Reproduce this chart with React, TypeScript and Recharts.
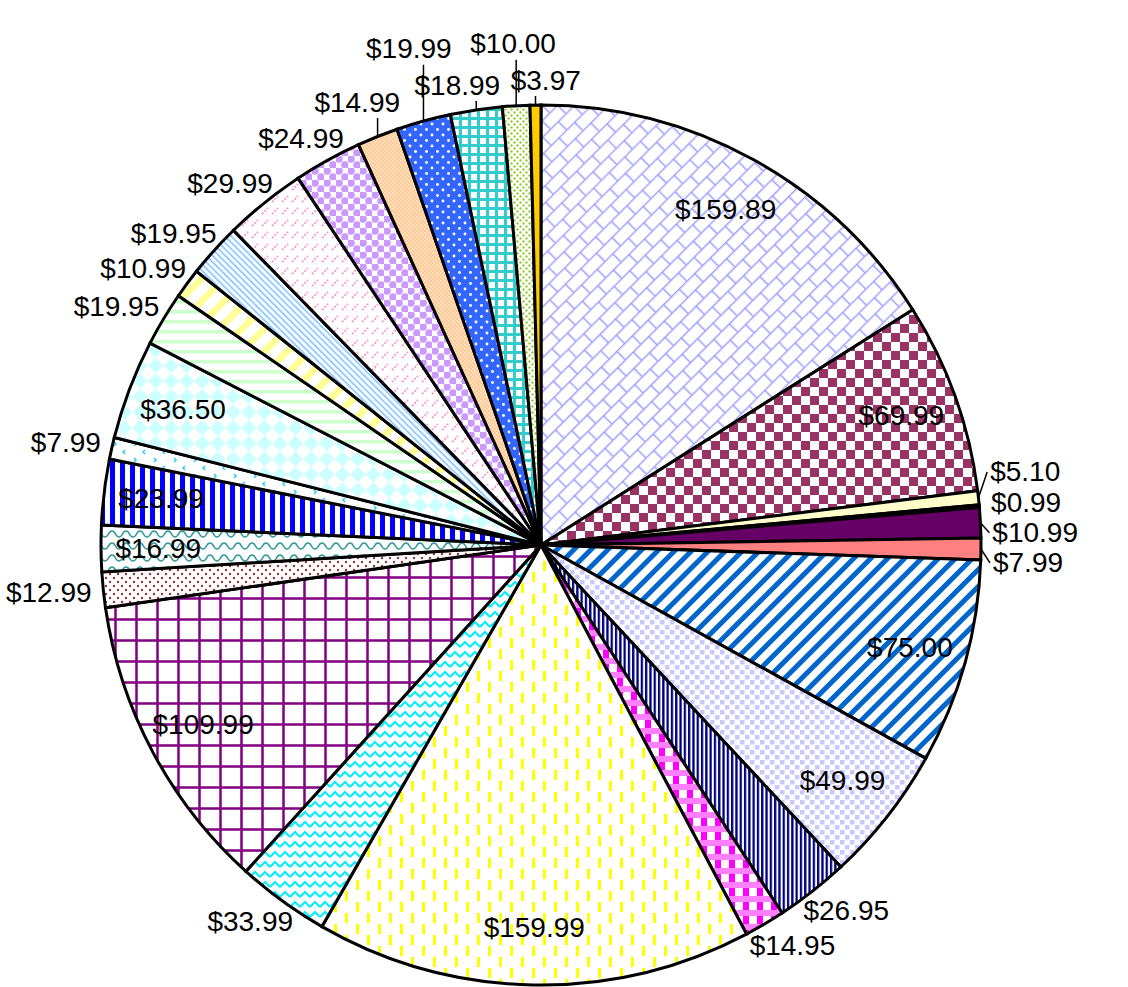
import { PieChart, Pie, Cell } from 'recharts';

// slice values, clockwise from 12 o'clock
const prices = [
  159.89, 69.99, 5.1, 0.99, 10.99, 7.99, 75.0, 49.99, 26.95, 14.95, 159.99, 33.99, 109.99, 12.99,
  16.99, 23.99, 7.99, 36.5, 19.95, 10.99, 19.95, 29.99, 24.99, 14.99, 19.99, 18.99, 10.0, 3.97,
];
const priceLabels = prices.map((p) => `$${p.toFixed(2)}`);

const sliceFills = [
  'url(#p0)', 'url(#p1)', '#ffffcc', '#1a0033', '#660066', '#ff8080', 'url(#p6)', 'url(#p7)',
  'url(#p8)', 'url(#p9)', 'url(#p10)', 'url(#p11)', 'url(#p12)', 'url(#p13)', 'url(#p14)',
  'url(#p15)', 'url(#p16)', 'url(#p17)', 'url(#p18)', 'url(#p19)', 'url(#p20)', 'url(#p21)',
  'url(#p22)', 'url(#p23)', 'url(#p24)', 'url(#p25)', 'url(#p26)', '#ffcc00',
];

const rows = prices.map((value, i) => ({ name: priceLabels[i], value }));

const W = 1128;
const H = 987;
const CX = 541;
const CY = 545;
const R = 440;
const FONT = 28;
const BOX_H = 26;
const GAP = 4;
const TOP_GAP = 10;
const IN_R = 0.87;

type Placed = {
  x: number; y: number; w: number; h: number;
  nx: number; ny: number; s: number; c: number;
  axis: 'x' | 'y'; inside: boolean;
};

const textWidth = (t: string) =>
  [...t].reduce((w, ch) => w + (ch === '.' ? 0.278 : 0.556), 0) * FONT;

// clockwise angle from 12 o'clock, 0..2PI
const clockAngle = (x: number, y: number) => {
  const a = Math.atan2(x - CX, CY - y);
  return a < 0 ? a + Math.PI * 2 : a;
};

// label goes inside when its box fits in the wedge, like Excel's best fit
function fitsInside(t0: number, t1: number, x: number, y: number, w: number, h: number) {
  const corners = [[x - w / 2, y - h / 2], [x + w / 2, y - h / 2], [x - w / 2, y + h / 2], [x + w / 2, y + h / 2]];
  return corners.every(([px, py]) => {
    const a = clockAngle(px, py);
    return a >= t0 && a <= t1 && Math.hypot(px - CX, py - CY) < R - 4;
  });
}

function placeLabels(): Placed[] {
  const total = prices.reduce((a, b) => a + b, 0);
  let acc = 0;
  const out: Placed[] = prices.map((v, i) => {
    const t0 = (acc / total) * Math.PI * 2;
    const t1 = ((acc + v) / total) * Math.PI * 2;
    const t = (t0 + t1) / 2;
    acc += v;
    const s = Math.sin(t);
    const c = Math.cos(t);
    const w = textWidth(priceLabels[i]);
    const ix = CX + R * IN_R * s;
    const iy = CY - R * IN_R * c;
    if (fitsInside(t0, t1, ix, iy, w, 22)) {
      return { x: ix, y: iy, w, h: BOX_H, nx: ix, ny: iy, s, c, axis: 'y', inside: true };
    }
    const px = CX + (R + 12) * s;
    const py = CY - (R + 12) * c;
    const x = px + (s * w) / 2;
    const y = py - (c * BOX_H) / 2;
    return { x, y, w, h: BOX_H, nx: x, ny: y, s, c, axis: Math.abs(s) >= 0.5 ? 'y' : 'x', inside: false };
  });

  const free = out.filter((b) => !b.inside);
  for (let it = 0; it < 600; it++) {
    let hit = false;
    for (let a = 0; a < free.length; a++) {
      for (let b = a + 1; b < free.length; b++) {
        const A = free[a];
        const B = free[b];
        const top = A.axis === 'x' && B.axis === 'x';
        const g = top ? TOP_GAP : GAP;
        const ox = (A.w + B.w) / 2 + g - Math.abs(A.x - B.x);
        const oy = (A.h + B.h) / 2 + g - Math.abs(A.y - B.y);
        if (ox <= 0 || oy <= 0) continue;
        hit = true;
        if (top) {
          if (oy < ox) {
            // stack the higher one further up, away from the pie
            const up = A.y < B.y ? A : B;
            up.y -= oy + 0.3;
          } else {
            const dir = A.x < B.x ? -1 : 1;
            A.x += dir * (ox / 2 + 0.3);
            B.x -= dir * (ox / 2 + 0.3);
          }
          continue;
        }
        const pairs: [Placed, Placed, number][] = [[A, B, -1], [B, A, 1]];
        for (const [P, Q, order] of pairs) {
          if (P.axis === 'y') {
            const dir = P.y < Q.y ? -1 : P.y > Q.y ? 1 : order * (P.s >= 0 ? 1 : -1);
            P.y += dir * (oy / 2 + 0.3);
          } else {
            const dir = P.x < Q.x ? -1 : P.x > Q.x ? 1 : order * (P.c >= 0 ? 1 : -1);
            P.x += dir * (ox / 2 + 0.3);
          }
        }
      }
    }
    for (const b of free) {
      b.x = Math.min(W - b.w / 2 - 2, Math.max(b.w / 2 + 2, b.x));
      b.y = Math.min(H - b.h / 2 - 2, Math.max(b.h / 2 + 2, b.y));
    }
    if (!hit) break;
  }
  return out;
}

const placed = placeLabels();

function renderLabel(props: any) {
  const { cx, cy, midAngle, outerRadius, index } = props;
  const b = placed[index];
  const rad = (midAngle * Math.PI) / 180;
  const text = (
    <text
      x={b.inside ? cx + outerRadius * IN_R * Math.cos(rad) : b.x}
      y={b.inside ? cy - outerRadius * IN_R * Math.sin(rad) : b.y}
      textAnchor="middle"
      dominantBaseline="central"
      fontFamily="'Liberation Sans', Arial, sans-serif"
      fontSize={FONT}
      fill="#000"
    >
      {priceLabels[index]}
    </text>
  );
  if (b.inside || Math.hypot(b.x - b.nx, b.y - b.ny) < 5) return <g key={index}>{text}</g>;

  const ex = cx + outerRadius * Math.cos(rad);
  const ey = cy - outerRadius * Math.sin(rad);
  const left = b.x - b.w / 2;
  const right = b.x + b.w / 2;
  let pts: number[][];
  if (left > ex + 6) {
    const end = [left - 3, b.y];
    pts = left - ex > 24 ? [[ex, ey], [left - 16, b.y], end] : [[ex, ey], end];
  } else if (right < ex - 6) {
    const end = [right + 3, b.y];
    pts = ex - right > 24 ? [[ex, ey], [right + 16, b.y], end] : [[ex, ey], end];
  } else {
    const tx = Math.min(right - 4, Math.max(left + 4, ex));
    pts = ey > b.y ? [[ex, ey], [tx, b.y + b.h / 2 + 3]] : [[ex, ey], [tx, b.y - b.h / 2 - 3]];
  }
  return (
    <g key={index}>
      <polyline points={pts.map((p) => p.join(',')).join(' ')} fill="none" stroke="#000" strokeWidth={1.5} />
      {text}
    </g>
  );
}

function Patterns() {
  const U = 'userSpaceOnUse';
  return (
    <svg width={0} height={0} style={{ position: 'absolute' }}>
      <defs>
        <pattern id="p0" width={22} height={24} patternUnits={U} patternTransform="rotate(-45)">
          <rect width={22} height={24} fill="#fff" />
          <path d="M0 0.75H22M0 12.75H22M0.75 0V12M11.75 12V24" stroke="#a3a3ff" strokeWidth={1.6} />
        </pattern>
        <pattern id="p1" width={18} height={18} patternUnits={U}>
          <rect width={18} height={18} fill="#fff" />
          <rect width={9} height={9} fill="#993366" />
          <rect x={9} y={9} width={9} height={9} fill="#993366" />
        </pattern>
        <pattern id="p6" width={12} height={12} patternUnits={U} patternTransform="rotate(45)">
          <rect width={12} height={12} fill="#fff" />
          <rect width={5} height={12} fill="#0066cc" />
        </pattern>
        <pattern id="p7" width={10} height={10} patternUnits={U}>
          <rect width={10} height={10} fill="#fff" />
          <rect width={4.5} height={4.5} fill="#c8c8ff" />
          <rect x={5} y={5} width={4.5} height={4.5} fill="#c8c8ff" />
        </pattern>
        <pattern id="p8" width={4.3} height={10} patternUnits={U}>
          <rect width={4.3} height={10} fill="#fff" />
          <rect width={2.3} height={10} fill="#000080" />
        </pattern>
        <pattern id="p9" width={14} height={14} patternUnits={U}>
          <rect width={14} height={14} fill="#fff" />
          <rect width={14} height={6} fill="#ff80ff" />
          <rect x={1} y={6} width={6} height={8} fill="#ff00ff" />
        </pattern>
        <pattern id="p10" width={22} height={22} patternUnits={U}>
          <rect width={22} height={22} fill="#fff" />
          <rect x={4} y={0} width={3} height={10} fill="#ffff00" />
          <rect x={15} y={11} width={3} height={10} fill="#ffff00" />
        </pattern>
        <pattern id="p11" width={10} height={10} patternUnits={U}>
          <rect width={10} height={10} fill="#fff" />
          <path d="M0 7L5 2L10 7" fill="none" stroke="#00eeff" strokeWidth={2} />
        </pattern>
        <pattern id="p12" width={21} height={21} patternUnits={U}>
          <rect width={21} height={21} fill="#fff" />
          <path d="M10.5 0V21M0 10.5H21" stroke="#800080" strokeWidth={2.5} />
        </pattern>
        <pattern id="p13" width={8} height={8} patternUnits={U}>
          <rect width={8} height={8} fill="#fff" />
          <circle cx={2} cy={2} r={1.2} fill="#993333" />
          <circle cx={6} cy={6} r={1.2} fill="#993333" />
        </pattern>
        <pattern id="p14" width={14} height={12} patternUnits={U}>
          <rect width={14} height={12} fill="#fff" />
          <path d="M0 3C4 3 3 9 7 9C11 9 10 3 14 3" fill="none" stroke="#339999" strokeWidth={1.6} />
        </pattern>
        <pattern id="p15" width={10} height={10} patternUnits={U}>
          <rect width={10} height={10} fill="#fff" />
          <rect width={5} height={10} fill="#0000ff" />
        </pattern>
        <pattern id="p16" width={20} height={16} patternUnits={U}>
          <rect width={20} height={16} fill="#fff" />
          <path d="M5 2L3 4L5 6M14 10L16 12L14 14" fill="none" stroke="#33ccff" strokeWidth={1.6} />
        </pattern>
        <pattern id="p17" width={22} height={22} patternUnits={U} patternTransform="rotate(45)">
          <rect width={22} height={22} fill="#fff" />
          <rect width={11} height={11} fill="#ccffff" />
          <rect x={11} y={11} width={11} height={11} fill="#ccffff" />
        </pattern>
        <pattern id="p18" width={10} height={10} patternUnits={U}>
          <rect width={10} height={10} fill="#fff" />
          <rect width={10} height={3.5} fill="#ccffcc" />
        </pattern>
        <pattern id="p19" width={16} height={16} patternUnits={U} patternTransform="rotate(45)">
          <rect width={16} height={16} fill="#fff" />
          <rect width={7} height={16} fill="#ffff99" />
        </pattern>
        <pattern id="p20" width={4.5} height={5} patternUnits={U} patternTransform="rotate(-45)">
          <rect width={4.5} height={5} fill="#fff" />
          <rect width={2} height={5} fill="#99ccff" />
        </pattern>
        <pattern id="p21" width={10} height={12} patternUnits={U}>
          <rect width={10} height={12} fill="#fff" />
          <path d="M2 10L8 4" stroke="#ff99cc" strokeWidth={2} strokeDasharray="2 1.5" />
        </pattern>
        <pattern id="p22" width={12} height={12} patternUnits={U}>
          <rect width={12} height={12} fill="#fff" />
          <circle cx={3} cy={3} r={3.8} fill="#cc99ff" />
          <circle cx={9} cy={9} r={3.8} fill="#cc99ff" />
        </pattern>
        <pattern id="p23" width={4} height={4} patternUnits={U}>
          <rect width={4} height={4} fill="#ffcc99" />
          <rect width={1.5} height={1.5} fill="#fff" opacity={0.6} />
          <rect x={2} y={2} width={1.5} height={1.5} fill="#fff" opacity={0.6} />
        </pattern>
        <pattern id="p24" width={11} height={11} patternUnits={U}>
          <rect width={11} height={11} fill="#3366ff" />
          <circle cx={3} cy={3} r={1.4} fill="#fff" />
          <circle cx={8.5} cy={8.5} r={1.4} fill="#fff" />
        </pattern>
        <pattern id="p25" width={9} height={9} patternUnits={U}>
          <rect width={9} height={9} fill="#33cccc" />
          <rect x={3} y={3} width={6} height={6} fill="#fff" />
        </pattern>
        <pattern id="p26" width={6} height={6} patternUnits={U}>
          <rect width={6} height={6} fill="#fff" />
          <circle cx={1.5} cy={1.5} r={1.2} fill="#99cc33" />
          <circle cx={4.5} cy={4.5} r={1.2} fill="#99cc33" />
        </pattern>
      </defs>
    </svg>
  );
}

export default function App() {
  return (
    <div style={{ position: 'fixed', left: 0, top: 0, width: W, height: H, background: '#fff' }}>
      <Patterns />
      <PieChart width={W} height={H} margin={{ top: 0, right: 0, bottom: 0, left: 0 }}>
        <Pie
          data={rows}
          dataKey="value"
          nameKey="name"
          cx={CX}
          cy={CY}
          outerRadius={R}
          startAngle={90}
          endAngle={-270}
          stroke="#000"
          strokeWidth={3}
          label={renderLabel}
          labelLine={false}
          isAnimationActive={false}
        >
          {rows.map((r, i) => (
            <Cell key={r.name + i} fill={sliceFills[i]} stroke="#000" strokeWidth={3} />
          ))}
        </Pie>
      </PieChart>
    </div>
  );
}
